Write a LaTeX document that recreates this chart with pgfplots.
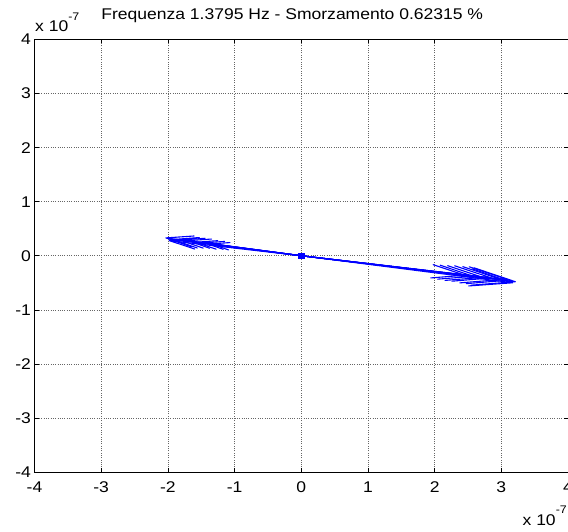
\documentclass[border=0pt]{standalone}
\usepackage{fontspec}
\setmainfont{Liberation Sans}[FakeStretch=1.13]
\usepackage{pgfplots}
\pgfplotsset{compat=1.18}

\definecolor{vec}{RGB}{0,0,255}
\newcommand{\lbl}{\fontsize{15.5}{18}\selectfont}
\newcommand{\expo}{x 10\raisebox{11.5pt}{\fontsize{11}{12}\selectfont -7}}
\pgfplotsset{compass/.style={draw=vec, line width=1.1pt, line join=round, line cap=round, mark=none}}

\begin{document}
\begin{tikzpicture}
\begin{axis}[
  scale only axis, width=533.5pt, height=432.5pt,
  xmin=-4, xmax=4, ymin=-4, ymax=4,
  xtick={-4,-3,...,4}, ytick={-4,-3,...,4},
  xticklabels={-4,-3,-2,-1,0,1,2,3,4},
  yticklabels={-4,-3,-2,-1,0,1,2,3,4},
  grid=major,
  grid style={black!60, line width=0.6pt, dash pattern=on 1pt off 1.3pt},
  axis line style={line width=0.8pt},
  tick align=inside, tick pos=both, major tick length=4pt,
  tick style={line width=0.6pt, black},
  ticklabel style={font=\lbl},
  xticklabel style={yshift=-6pt},
  title={Frequenza 1.3795 Hz - Smorzamento 0.62315 \%},
  title style={font=\lbl, at={(0.5,1)}, anchor=base, yshift=13.5pt, xshift=-9pt},
]
% compass arrows: origin -> tip -> barb -> tip -> barb (units of 1e-7)
% right-pointing components
\addplot[compass] coordinates {(0,0) (3.21,-0.48) (2.592,-0.2235) (3.21,-0.48) (2.544,-0.5445)};
\addplot[compass] coordinates {(0,0) (3.17,-0.50) (2.561,-0.2415) (3.17,-0.50) (2.511,-0.5585)};
\addplot[compass] coordinates {(0,0) (3.12,-0.45) (2.5185,-0.204) (3.12,-0.45) (2.4735,-0.516)};
\addplot[compass] coordinates {(0,0) (3.00,-0.44) (2.422,-0.202) (3.00,-0.44) (2.378,-0.502)};
\addplot[compass] coordinates {(0,0) (2.85,-0.41) (2.3005,-0.1855) (2.85,-0.41) (2.2595,-0.4705)};
\addplot[compass] coordinates {(0,0) (2.72,-0.40) (2.196,-0.184) (2.72,-0.40) (2.156,-0.456)};
\addplot[compass] coordinates {(0,0) (2.58,-0.38) (2.083,-0.175) (2.58,-0.38) (2.045,-0.433)};
\addplot[compass] coordinates {(0,0) (2.45,-0.36) (1.978,-0.1655) (2.45,-0.36) (1.942,-0.4105)};
% left-pointing components
\addplot[compass] coordinates {(0,0) (-2.03,0.33) (-1.6405,0.1625) (-2.03,0.33) (-1.6075,0.3655)};
\addplot[compass] coordinates {(0,0) (-1.98,0.28) (-1.598,0.125) (-1.98,0.28) (-1.57,0.323)};
\addplot[compass] coordinates {(0,0) (-1.93,0.30) (-1.559,0.1435) (-1.93,0.30) (-1.529,0.3365)};
\addplot[compass] coordinates {(0,0) (-1.82,0.29) (-1.4705,0.141) (-1.82,0.29) (-1.4415,0.323)};
\addplot[compass] coordinates {(0,0) (-1.70,0.28) (-1.374,0.139) (-1.70,0.28) (-1.346,0.309)};
\addplot[compass] coordinates {(0,0) (-1.58,0.25) (-1.2765,0.121) (-1.58,0.25) (-1.2515,0.279)};
\addplot[compass] coordinates {(0,0) (-1.45,0.24) (-1.172,0.1195) (-1.45,0.24) (-1.148,0.2645)};
\addplot[compass] coordinates {(0,0) (-1.35,0.22) (-1.091,0.1085) (-1.35,0.22) (-1.069,0.2435)};
% near-zero components collapse into a dot at the origin
\addplot[color=vec, only marks, mark=square*, mark size=2.6pt] coordinates {(0,0)};
\end{axis}
\node[font=\lbl, anchor=base west, inner sep=0pt] at ([xshift=0.5pt, yshift=7.8pt]current axis.north west) {\expo};
\node[font=\lbl, anchor=base east, inner sep=0pt] at ([xshift=-1pt, yshift=-53pt]current axis.south east) {\expo};
\pgfresetboundingbox
\useasboundingbox ([xshift=-34.5pt, yshift=-59pt]current axis.south west) rectangle ([yshift=39.5pt]current axis.north east);
\end{tikzpicture}
\end{document}
